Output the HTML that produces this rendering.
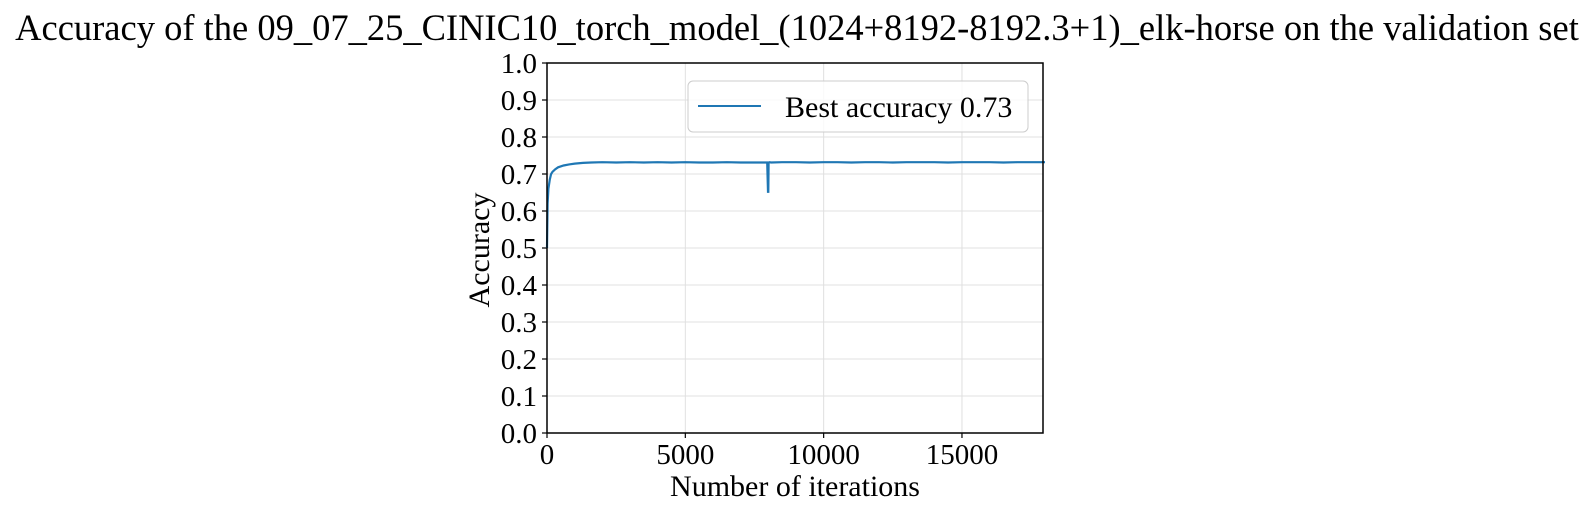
<!DOCTYPE html>
<html><head><meta charset="utf-8"><style>
html,body{margin:0;padding:0;background:#fff;}
svg{display:block;font-family:"Liberation Serif","DejaVu Serif",serif;}
</style></head><body>
<svg id="chart" width="1590" height="512" viewBox="0 0 1590 512">
<text x="797" y="40" font-size="36.5" text-anchor="middle">Accuracy of the 09_07_25_CINIC10_torch_model_(1024+8192-8192.3+1)_elk-horse on the validation set</text>
<g id="grid"></g>
<g id="ticks"></g>
<path id="series" fill="none" stroke="#1f77b4" stroke-width="2.2"/>
<rect x="547" y="63" width="496" height="370" fill="none" stroke="#000" stroke-width="1.5"/>
<g>
<rect x="688" y="81" width="340" height="51" rx="5" fill="#fff" fill-opacity="0.8" stroke="#ccc"/>
<line x1="698" y1="106" x2="761" y2="106" stroke="#1f77b4" stroke-width="2"/>
<text x="785" y="117" font-size="30">Best accuracy 0.73</text>
</g>
<text x="795" y="496" font-size="30" text-anchor="middle">Number of iterations</text>
<text transform="translate(489,250) rotate(-90)" font-size="30" text-anchor="middle">Accuracy</text>
</svg>
<script>
const iters = [0,20,50,100,150,200,300,400,600,800,1000,1300,1600,2000,2500,3000,3500,4000,4500,5000,5500,6000,6500,7000,7500,7900,7960,7990,8000,8010,8040,8100,8500,9000,9500,10000,10500,11000,11500,12000,12500,13000,13500,14000,14500,15000,15500,16000,16500,17000,17500,18000];
const acc = [0.50,0.62,0.66,0.685,0.70,0.706,0.713,0.718,0.723,0.726,0.728,0.730,0.731,0.732,0.731,0.732,0.731,0.732,0.731,0.732,0.731,0.731,0.732,0.731,0.731,0.731,0.731,0.652,0.652,0.731,0.732,0.731,0.732,0.732,0.731,0.732,0.732,0.731,0.732,0.732,0.731,0.732,0.732,0.732,0.731,0.732,0.732,0.732,0.731,0.732,0.732,0.732];
const xTicks = [0,5000,10000,15000];
const yTicks = [0,0.1,0.2,0.3,0.4,0.5,0.6,0.7,0.8,0.9,1.0];
const X0=547,X1=1043,Y0=433,Y1=63,XMAX=17929;
const sx=v=>X0+(v/XMAX)*(X1-X0);
const sy=v=>Y0-v*(Y0-Y1);
const NS="http://www.w3.org/2000/svg";
const grid=document.getElementById('grid'),ticks=document.getElementById('ticks');
function mk(tag,attrs,parent){const e=document.createElementNS(NS,tag);for(const k in attrs)e.setAttribute(k,attrs[k]);parent.appendChild(e);return e;}
xTicks.forEach(t=>{
  const g=mk('line',{x1:sx(t),x2:sx(t),y1:Y1,y2:Y0,stroke:'#e0e0e0','stroke-width':1},grid);
  
  
  const l=mk('line',{x1:sx(t),x2:sx(t),y1:Y0,y2:Y0+5,stroke:'#000','stroke-width':1.2},ticks);
  
  
  const tx=mk('text',{x:sx(t),y:Y0+31,'font-size':29,'text-anchor':'middle'},ticks);
  tx.textContent=String(t);
  
  
});
yTicks.forEach(t=>{
  const g=mk('line',{x1:X0,x2:X1,y1:sy(t),y2:sy(t),stroke:'#e0e0e0','stroke-width':1},grid);
  
  
  const l=mk('line',{x1:X0-5,x2:X0,y1:sy(t),y2:sy(t),stroke:'#000','stroke-width':1.2},ticks);
  
  
  const tx=mk('text',{x:X0-10,y:sy(t)+10,'font-size':29,'text-anchor':'end'},ticks);
  tx.textContent=t.toFixed(1);
  
  
});
document.getElementById('series').setAttribute('d',iters.map((v,i)=>(i?'L':'M')+sx(v).toFixed(1)+','+sy(acc[i]).toFixed(1)).join(''));
</script>
</body></html>
